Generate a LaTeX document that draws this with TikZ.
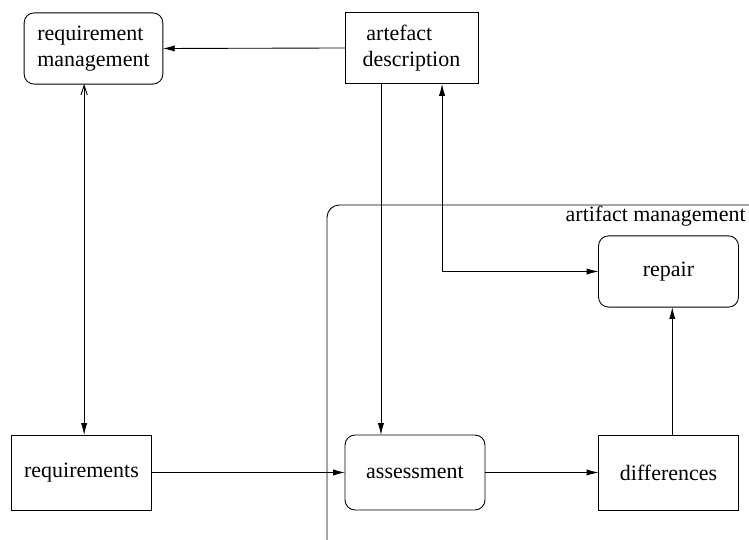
\documentclass[tikz,border=0pt]{standalone}
\usepackage{fontspec}
\setmainfont{Liberation Serif}
\usetikzlibrary{arrows.meta}
\tikzset{
    blk/.style={
        draw,
        rectangle,
        align=center,
        inner sep=0mm,
        outer sep=0mm,
        minimum width=2.24cm,
        minimum height=1.16cm
    },
    rblk/.style={blk,rounded corners=1.6mm},
    arr/.style={-{Latex[length=1.9mm,width=1mm]}},
    dblarr/.style={{Latex[length=1.9mm,width=1mm]}-{Latex[length=1.9mm,width=1mm]}},
    x={(0.016cm,0cm)},
    y={(0cm,-0.016cm)}
}
\begin{document}
\begin{tikzpicture}
        \useasboundingbox (0,0) rectangle (749,540);
        \node[rblk,align=left,minimum width=2.22cm,minimum height=1.14cm] (reqm) at (93.5,48.5) {requirement\\management};
        \node[blk,align=left,minimum width=2.13cm,minimum height=1.15cm] (desc) at (411.5,48) {\hspace{0.6mm}artefact\\description};
        \node[rblk,minimum height=1.14cm] (repair) at (668.5,271.5) {repair};
        \node[blk,minimum height=1.2cm] (diff) at (668.5,472.5) {differences};
        \node[rblk,minimum height=1.2cm] (assess) at (415,472.5) {assessment};
        \node[blk,minimum height=1.2cm] (req) at (81.5,472.5) {requirements};
        % artifact management region
        \draw[rounded corners=2mm] (749,205) -- (327,205) -- (327,540);
        \node[anchor=east,inner sep=0mm] (amlbl) at (746,216) {artifact management};
        \draw[arr] (desc.west) -- (reqm.east);
        \draw[{Straight Barb[length=1.5mm,width=1mm]}-{Latex[length=1.9mm,width=1mm]}]
            ([xshift=-0.15cm]reqm.south) coordinate (l1) -- (l1 |- req.north);
        \draw[arr] ([xshift=0.576cm]desc.south west) coordinate (d1) -- (d1 |- assess.north);
        \draw[dblarr] ([xshift=-0.576cm]desc.south east) coordinate (d2) |- (repair.west);
        \draw[arr] (req.east) -- (assess.west);
        \draw[arr] (assess.east) -- (diff.west);
        \draw[arr] ([xshift=0.06cm]diff.north) coordinate (f1) -- (f1 |- repair.south);
\end{tikzpicture}
\end{document}
